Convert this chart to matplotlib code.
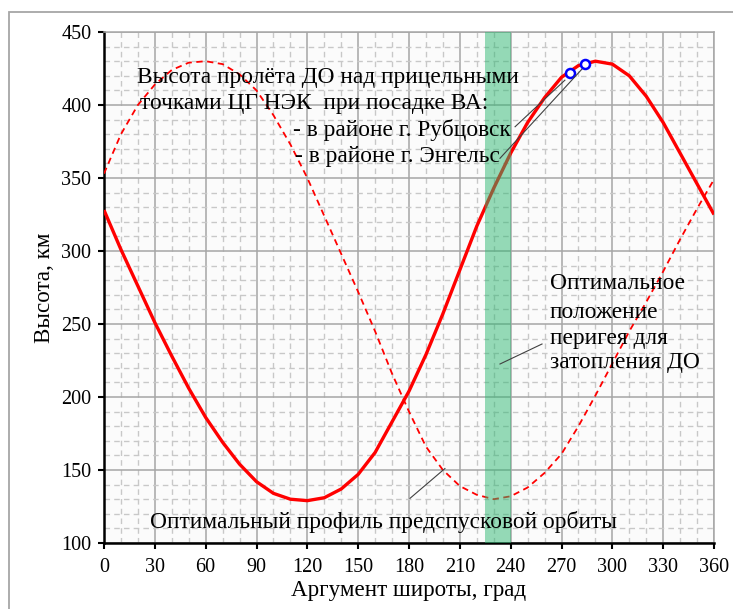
import numpy as np
import matplotlib
matplotlib.use("Agg")
import matplotlib.pyplot as plt
from matplotlib.patches import Rectangle

plt.rcParams['font.family'] = ['Liberation Serif', 'DejaVu Serif']

# аргумент широты, град
u = [0, 10, 20, 30, 40, 50, 60, 70, 80, 90, 100, 110, 120, 130, 140, 150, 160, 170, 180,
     190, 200, 210, 220, 230, 240, 250, 260, 270, 280, 290, 300, 310, 320, 330, 340, 350, 360]

# оптимальный профиль (сплошная)
h_opt = [328, 301, 276, 251, 228, 206, 186, 169, 154, 142, 134, 130, 129, 131, 137, 147, 162, 183, 204,
         229, 257, 287, 317, 343, 367, 388, 405, 419, 427, 430, 428, 420, 406, 388, 367, 346, 325]

# пунктирная кривая
h_dash = [353, 380, 400, 414, 424, 429, 430, 428, 421, 410, 393, 373, 350, 324, 298, 272, 245, 216, 190,
          166, 150, 139, 133, 130, 132, 138, 148, 161, 180, 201, 223, 245, 265, 286, 308, 329, 349]

# прицельные точки
pts_u = [275, 284]
pts_h = [422, 428]

band = [225, 240]

fig = plt.figure(figsize=(7.33, 6.09), dpi=100)
ax = fig.add_axes([104/733, 1 - 543/609, 610/733, 511/609])
ax.set_facecolor('#FBFBFB')

# рамка диаграммы
fig.patches.append(Rectangle((9/733, -0.1), 1.2, 1 - 12/609 + 0.1, transform=fig.transFigure,
                             fill=False, edgecolor='#A6A6A6', linewidth=1.3))

ax.plot(u, h_dash, color='red', lw=1.3, ls=(0, (3.5, 2.5)), zorder=3)
ax.plot(u, h_opt, color='red', lw=2.4, zorder=3, solid_capstyle='butt')
ax.plot(pts_u, pts_h, 'o', ms=6.5, mfc='white', mec='#0000FF', mew=1.8, zorder=5)

ax.axvspan(band[0], band[1], color='#2EB872', alpha=0.5, lw=0, zorder=4)

ax.set_xlim(0, 360)
ax.set_ylim(100, 450)
ax.set_xticks(range(0, 361, 30))
ax.set_yticks(range(100, 451, 50))
ax.set_xticks(range(0, 361, 10), minor=True)
ax.set_yticks(range(100, 451, 10), minor=True)
ax.grid(which='major', color='#A6A6A6', lw=1.1, zorder=1)
ax.grid(which='minor', color='#C8C8C8', lw=1.0, ls=(0, (4, 3)), zorder=0)
ax.set_axisbelow(True)
ax.tick_params(which='major', direction='out', length=4, width=1.5, labelsize=14.5)
ax.tick_params(axis='x', pad=7)
ax.tick_params(axis='y', pad=5)
ax.tick_params(which='minor', length=0)
for s in ['left', 'bottom']:
    ax.spines[s].set_linewidth(1.8)
    ax.spines[s].set_color('black')
for s in ['top', 'right']:
    ax.spines[s].set_linewidth(1.1)
    ax.spines[s].set_color('#A6A6A6')

ax.set_xlabel('Аргумент широты, град', fontsize=16.6, va='center')
ax.set_ylabel('Высота, км', fontsize=16.6, va='center')
ax.xaxis.set_label_coords(0.5, -0.092)
ax.yaxis.set_label_coords(-0.097, 0.5)

fs = 16.8
ax.text(19.5, 418.5, 'Высота пролёта ДО над прицельными', fontsize=fs, va='center', zorder=6)
ax.text(21, 400.7, 'точками ЦГ НЭК  при посадке ВА:', fontsize=fs, va='center', zorder=6)
ax.text(111.5, 383, '- в районе г. Рубцовск', fontsize=fs, va='center', zorder=6)
ax.text(112.7, 364.4, '- в районе г. Энгельс', fontsize=fs, va='center', zorder=6)

for txt, yy in zip(['Оптимальное', 'положение', 'перигея для', 'затопления ДО'],
                   [278, 258.2, 240.4, 223.3]):
    ax.text(263.2, yy, txt, fontsize=fs, va='center', zorder=6)

ax.text(27, 114.4, 'Оптимальный профиль предспусковой орбиты', fontsize=fs, va='center', zorder=6)

# выноски
lk = dict(color='#404040', lw=0.8, zorder=6)
ax.plot([242.6, 272], [385.1, 417], **lk)
ax.plot([233.7, 282], [363.5, 424.5], **lk)
ax.plot([180.6, 201.2], [130.6, 151], **lk)
ax.plot([258.5, 233.7], [236.3, 222.6], **lk)

fig.savefig('out.png', dpi=100)
